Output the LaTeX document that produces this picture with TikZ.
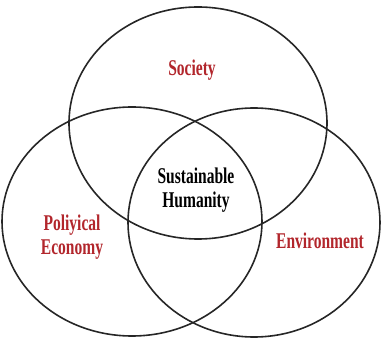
\documentclass[tikz,border=0pt]{standalone}
\usepackage{fontspec}
\setmainfont{Liberation Serif}
\newfontfamily\condserif[FakeStretch=0.69]{Liberation Serif}
\definecolor{labelred}{RGB}{178,38,44}

\begin{document}
\begin{tikzpicture}[x=1pt, y=1pt,
  ring/.style={draw=black!85, line width=1.6pt},
  setlabel/.style={text=labelred, font=\condserif\bfseries\fontsize{22.5}{24}\selectfont, align=center},
  corelabel/.style={text=black, font=\condserif\bfseries\fontsize{22.5}{24}\selectfont, align=center}]
\useasboundingbox (0,0) rectangle (381,343);
\draw[ring] (198,220) ellipse (129 and 116);
\draw[ring] (132,121.5) ellipse (130 and 114.5);
\draw[ring] (254,120.5) ellipse (126 and 114.5);
\node[setlabel] (S) at (192,273) {Society};
\node[corelabel] (H) at (196,153) {Sustainable\\Humanity};
\node[setlabel] (P) at (72,106) {Poliyical\\Economy};
\node[setlabel] (E) at (320,102) {Environment};
\end{tikzpicture}
\end{document}
